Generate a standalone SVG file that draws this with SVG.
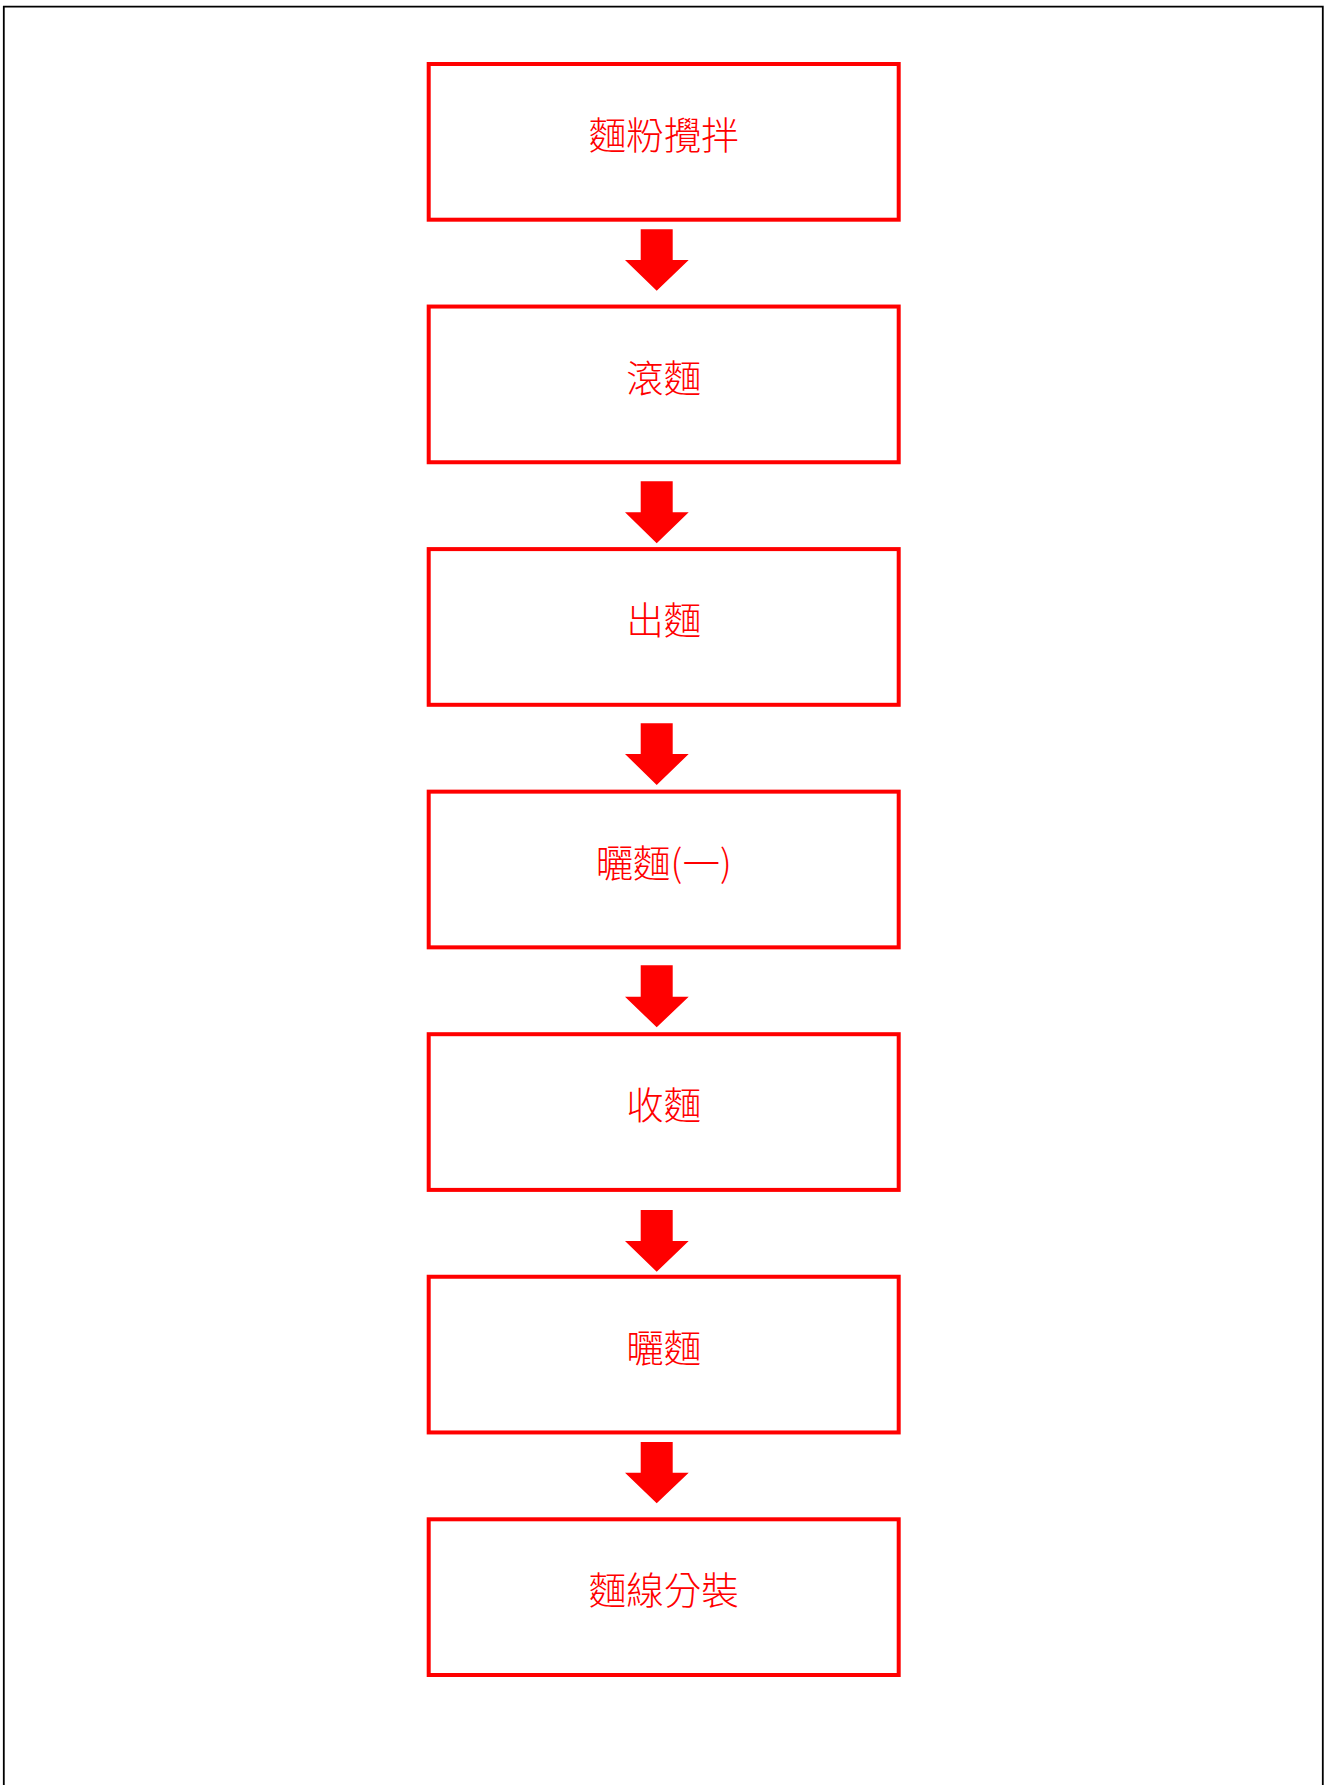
<svg xmlns="http://www.w3.org/2000/svg" width="1325" height="1785" viewBox="0 0 1325 1785">
<style>
.box{fill:#fff;stroke:#ff0000;stroke-width:4}
.lbl{font-family:"Noto Sans CJK TC","Noto Sans CJK SC",sans-serif;font-size:37.5px;font-weight:300;fill:#ff0000;text-anchor:middle}
.arr{fill:#ff0000}
</style>
<rect x="0" y="0" width="1325" height="1785" fill="#fff"/>
<path d="M3.8,1790 V6.7 H1322.8 V1790" fill="none" stroke="#000" stroke-width="1.8"/>
<g id="connectors">
<polygon class="arr" points="640.7,229.3 672.7,229.3 672.7,260 688.7,260 656.7,290.7 625,260 640.7,260"/>
<polygon class="arr" points="640.7,481.3 672.7,481.3 672.7,512.3 688.7,512.3 656.7,543.3 625,512.3 640.7,512.3"/>
<polygon class="arr" points="640.7,723.3 672.7,723.3 672.7,754 688.7,754 656.7,785 625,754 640.7,754"/>
<polygon class="arr" points="640.7,965.3 672.7,965.3 672.7,996.7 688.7,996.7 656.7,1027.3 625,996.7 640.7,996.7"/>
<polygon class="arr" points="640.7,1210 672.7,1210 672.7,1241 688.7,1241 656.7,1271.7 625,1241 640.7,1241"/>
<polygon class="arr" points="640.7,1442 672.7,1442 672.7,1472.7 688.7,1472.7 656.7,1503.3 625,1472.7 640.7,1472.7"/>
</g>
<g id="n1"><rect class="box" x="428.7" y="64" width="470" height="155.7"/><text class="lbl" x="663.7" y="149">麵粉攪拌</text></g>
<g id="n2"><rect class="box" x="428.7" y="306.55" width="470" height="155.7"/><text class="lbl" x="663.7" y="391.55">滾麵</text></g>
<g id="n3"><rect class="box" x="428.7" y="549.1" width="470" height="155.7"/><text class="lbl" x="663.7" y="634.1">出麵</text></g>
<g id="n4"><rect class="box" x="428.7" y="791.65" width="470" height="155.7"/><text class="lbl" x="663.7" y="876.65">曬麵(一)</text></g>
<g id="n5"><rect class="box" x="428.7" y="1034.2" width="470" height="155.7"/><text class="lbl" x="663.7" y="1119.2">收麵</text></g>
<g id="n6"><rect class="box" x="428.7" y="1276.75" width="470" height="155.7"/><text class="lbl" x="663.7" y="1361.75">曬麵</text></g>
<g id="n7"><rect class="box" x="428.7" y="1519.3" width="470" height="155.7"/><text class="lbl" x="663.7" y="1604.3">麵線分裝</text></g>
</svg>
